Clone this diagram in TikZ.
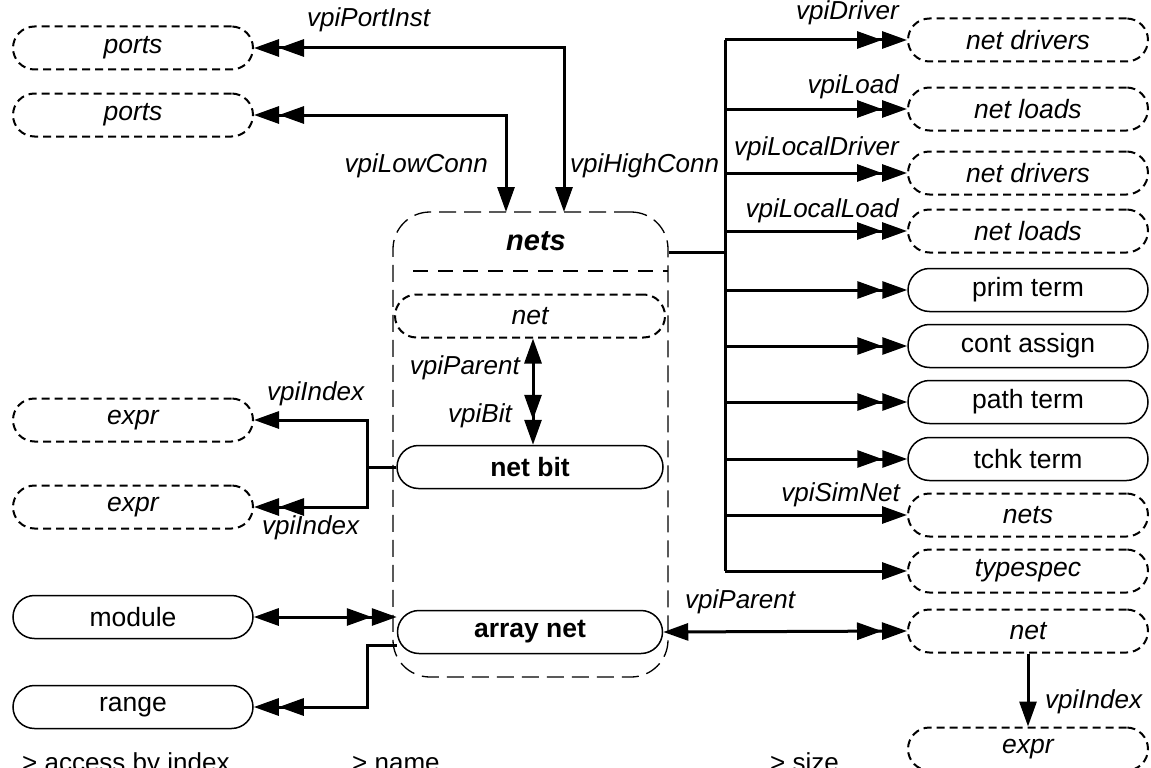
\documentclass[tikz,border=0pt]{standalone}
\usepackage{fontspec}
\setmainfont{Liberation Sans}
\usetikzlibrary{arrows.meta}
\begin{document}
\begin{tikzpicture}[x=1pt,y=-1pt,
  >={Triangle[length=25pt,width=17pt]},
  conn/.style={line width=3pt},
  basebox/.style={rectangle, rounded corners=21.5pt, minimum width=240pt, minimum height=43pt, inner sep=0pt, font=\fontsize{26.5}{30}\selectfont},
  solidbox/.style={basebox, draw, line width=1.5pt},
  dashbox/.style={basebox, draw, line width=2pt, dash pattern=on 8pt off 5pt, font=\fontsize{26.5}{30}\selectfont\itshape},
  container/.style={rectangle, draw, rounded corners=37pt, line width=1.3pt, dash pattern=on 17pt off 8pt, minimum width=275pt, minimum height=465pt, inner sep=0pt},
  sepline/.style={line width=2.2pt, dash pattern=on 15pt off 10pt},
  lbl/.style={font=\fontsize{26}{30}\selectfont\itshape, inner sep=0pt},
  legend/.style={font=\fontsize{26}{30}\selectfont, inner sep=0pt, anchor=base west}
]
\useasboundingbox (0,0) rectangle (1151,768);
\clip (0,0) rectangle (1151,768);

% container
\node[container] (nets) at (530.5,444.5) {};
\node[font=\fontsize{29}{32}\selectfont\bfseries\itshape, inner sep=0pt, anchor=base] (netsTitle) at (536,250) {nets};
\draw[sepline] (413,271) -- (668,271);

% left column
\node[dashbox] (ports1) at (133,48) {ports};
\node[dashbox] (ports2) at (133,115) {ports};
\node[dashbox] (expr1) at (133,420) {expr};
\node[dashbox] (expr2) at (133,507) {expr};
\node[solidbox] (module) at (133,617) {module};
\node[solidbox] (range) at (133,707) {range};

% middle
\node[dashbox, minimum width=270pt] (net) at (530,316) {net};
\node[solidbox, minimum width=266pt, font=\fontsize{26.5}{30}\selectfont\bfseries] (netbit) at (530,467) {net bit};
\node[solidbox, minimum width=265pt, font=\fontsize{26.5}{30}\selectfont\bfseries] (arraynet) at (530,632) {array net};

% right column
\node[dashbox] (drv1) at (1028,40) {net drivers};
\node[dashbox] (ld1) at (1028,109) {net loads};
\node[dashbox] (drv2) at (1028,173) {net drivers};
\node[dashbox] (ld2) at (1028,231) {net loads};
\node[solidbox] (prim) at (1028,290) {prim term};
\node[solidbox] (cont) at (1028,346) {cont assign};
\node[solidbox] (pathT) at (1028,402) {path term};
\node[solidbox] (tchk) at (1028,459) {tchk term};
\node[dashbox] (simnets) at (1028,515) {nets};
\node[dashbox] (typespec) at (1028,571) {typespec};
\node[dashbox] (rnet) at (1028,631) {net};
\node[dashbox] (rexpr) at (1028,749) {expr};

% coordinates
\coordinate (hc) at (564,212);
\coordinate (lc) at (506,212);
\coordinate (busJ) at (725,252);
\coordinate (ej) at (367,467);
\coordinate (rj) at (367,645);
\coordinate (nb) at (533,0);

% top connectors
\draw[conn,<<->] (ports1.east) -| (hc);
\draw[conn,<<->] (ports2.east) -| (lc);

% right bus
\draw[conn] (nets.east |- busJ) -- (busJ);
\draw[conn] (drv1.west -| busJ) -- (typespec.west -| busJ);
\draw[conn,->>] (drv1.west -| busJ) -- (drv1.west);
\draw[conn,->>] (ld1.west -| busJ) -- (ld1.west);
\draw[conn,->>] (drv2.west -| busJ) -- (drv2.west);
\draw[conn,->>] (ld2.west -| busJ) -- (ld2.west);
\draw[conn,->>] (prim.west -| busJ) -- (prim.west);
\draw[conn,->>] (cont.west -| busJ) -- (cont.west);
\draw[conn,->>] (pathT.west -| busJ) -- (pathT.west);
\draw[conn,->>] (tchk.west -| busJ) -- (tchk.west);
\draw[conn,->] (simnets.west -| busJ) -- (simnets.west);
\draw[conn,->] (typespec.west -| busJ) -- (typespec.west);

% net <-> net bit
\draw[conn,<->>] (net.south -| nb) -- (netbit.north -| nb);

% net bit -> exprs
\draw[conn] (netbit.west) -- (ej);
\draw[conn,->] (ej) |- (expr1.east);
\draw[conn,->>] (ej) |- (expr2.east);

% module <-> array net
\draw[conn,<->>] (module.east) -- (module.east -| arraynet.west);
% array net -> range
\draw[conn,->>] (arraynet.west |- rj) -- (rj) |- (range.east);
% array net <-> net
\draw[conn,<->>] (arraynet.east) -- (rnet.west);
% net -> expr
\draw[conn,->] (rnet.south) -- (rexpr.north);

% labels
\node[lbl, anchor=base west] at (307,27) {vpiPortInst};
\node[lbl, anchor=base east] at (488,172) {vpiLowConn};
\node[lbl, anchor=base west] at (570,172) {vpiHighConn};
\node[lbl, anchor=base east] at (899,20) {vpiDriver};
\node[lbl, anchor=base east] at (899,93) {vpiLoad};
\node[lbl, anchor=base east] at (899,155) {vpiLocalDriver};
\node[lbl, anchor=base east] at (899,217) {vpiLocalLoad};
\node[lbl, anchor=base east] at (900,501) {vpiSimNet};
\node[lbl, anchor=base east] at (520,374) {vpiParent};
\node[lbl, anchor=base east] at (512,422) {vpiBit};
\node[lbl, anchor=base west] at (267,400) {vpiIndex};
\node[lbl, anchor=base west] at (262,534) {vpiIndex};
\node[lbl, anchor=base west] at (685,608) {vpiParent};
\node[lbl, anchor=base west] at (1045,708) {vpiIndex};

% legend (cut off at bottom, as in the reference)
\node[legend] at (22,771) {> access by index};
\node[legend] at (352,771) {> name};
\node[legend] at (770,771) {> size};
\end{tikzpicture}
\end{document}
